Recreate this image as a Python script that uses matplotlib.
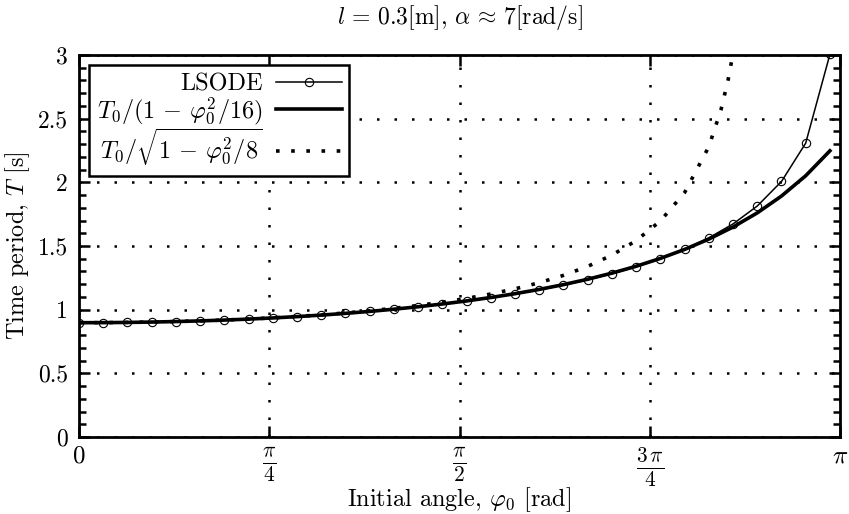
import matplotlib
matplotlib.use("Agg")
import matplotlib.pyplot as plt
from matplotlib.ticker import MultipleLocator

plt.rcParams['mathtext.fontset'] = 'cm'
plt.rcParams['font.family'] = ['cmr10', 'DejaVu Serif']
plt.rcParams['axes.formatter.use_mathtext'] = True

# initial angle [rad]
phi = [0.0, 0.1, 0.2, 0.3, 0.4, 0.5, 0.6, 0.7, 0.8, 0.9,
       1.0, 1.1, 1.2, 1.3, 1.4, 1.5, 1.6, 1.7, 1.8, 1.9,
       2.0, 2.1, 2.2, 2.3, 2.4, 2.5, 2.6, 2.7, 2.8, 2.9, 3.0, 3.1]
# LSODE time period [s]
t_lsode = [0.8976, 0.8982, 0.8998, 0.9027, 0.9067, 0.9118, 0.9182, 0.9259, 0.9349, 0.9453,
           0.9571, 0.9706, 0.9858, 1.0028, 1.0218, 1.0430, 1.0667, 1.0931, 1.1226, 1.1557,
           1.1928, 1.2348, 1.2825, 1.3371, 1.4004, 1.4747, 1.5638, 1.6733, 1.8139, 2.0066,
           2.3080, 3.0056]
# T0/(1 - phi^2/16)
t_approx1 = [0.8976, 0.8982, 0.8998, 0.9027, 0.9067, 0.9118, 0.9183, 0.9260, 0.9350, 0.9455,
             0.9574, 0.9710, 0.9864, 1.0036, 1.0229, 1.0445, 1.0686, 1.0955, 1.1255, 1.1591,
             1.1968, 1.2391, 1.2869, 1.3409, 1.4025, 1.4730, 1.5543, 1.6489, 1.7600, 1.8922,
             2.0517, 2.2475]
# T0/sqrt(1 - phi^2/8)
phi2 = [0.0, 0.1, 0.2, 0.3, 0.4, 0.5, 0.6, 0.7, 0.8, 0.9,
        1.0, 1.1, 1.2, 1.3, 1.4, 1.5, 1.6, 1.7, 1.8, 1.9,
        2.0, 2.1, 2.2, 2.3, 2.4, 2.5, 2.6, 2.65, 2.68, 2.7, 2.72]
t_approx2 = [0.8976, 0.8982, 0.8999, 0.9027, 0.9067, 0.9120, 0.9185, 0.9264, 0.9358, 0.9468,
             0.9596, 0.9743, 0.9912, 1.0107, 1.0330, 1.0588, 1.0885, 1.1231, 1.1637, 1.2117,
             1.2694, 1.3399, 1.4282, 1.5422, 1.6963, 1.9192, 2.2799, 2.5678, 2.8077, 3.0130,
             3.2732]

xtick_vals = [0, 0.7853981634, 1.5707963268, 2.3561944902, 3.1415926536]
xtick_labels = ['$0$', r'$\frac{\pi}{4}$', r'$\frac{\pi}{2}$', r'$\frac{3\,\pi}{4}$', r'$\pi$']
ytick_vals = [0, 0.5, 1, 1.5, 2, 2.5, 3]
ytick_labels = ['0', '0.5', '1', '1.5', '2', '2.5', '3']

fig = plt.figure(figsize=(8.49, 5.14), dpi=100)
ax = fig.add_axes([79/849, 1-437/514, (840-79)/849, (437-55)/514])

ax.plot(phi, t_lsode, color='black', lw=1.1, marker='o', ms=6, mfc='none',
        mec='black', mew=0.8, label='LSODE', zorder=4)
ax.plot(phi, t_approx1, color='black', lw=2.6, label=r'$T_0/(1\,-\,\varphi_0^2/16)$', zorder=3)
ax.plot(phi2, t_approx2, color='black', lw=2.6, linestyle=(0, (1, 3.2)),
        label=r'$T_0/\sqrt{1\,-\,\varphi_0^2/8}$', zorder=3)

ax.set_xlim(0, 3.1415926536)
ax.set_ylim(0, 3)
ax.set_xticks(xtick_vals)
ax.set_xticklabels(xtick_labels)
ax.set_yticks(ytick_vals)
ax.set_yticklabels(ytick_labels)
ax.yaxis.set_minor_locator(MultipleLocator(0.1))

ax.grid(True, which='major', color='black', linestyle=(0, (1, 6)), linewidth=1.8)
ax.tick_params(which='both', direction='in', top=True, right=True, width=1.8)
ax.tick_params(which='major', length=8, labelsize=17, pad=8)
ax.tick_params(which='minor', length=5)
ax.tick_params(axis='x', which='major', labelsize=18, pad=6)
for lab in ax.get_xticklabels()[1:4]:
    lab.set_fontsize(22)
for s in ax.spines.values():
    s.set_linewidth(2.0)

ax.set_xlabel(r'Initial angle, $\varphi_0$ [rad]', fontsize=17.5, labelpad=-3)
ax.set_ylabel(r'Time period, $T$ [s]', fontsize=17.5, labelpad=4)
ax.set_title(r'$l\,=\,0.3$[m], $\alpha\,\approx\,7$[rad/s]', fontsize=17, pad=22)

leg = ax.legend(loc='upper left', markerfirst=False, fontsize=17.5, frameon=True,
                fancybox=False, edgecolor='black', framealpha=1, handlelength=2.7,
                borderaxespad=0.42, labelspacing=0.0, borderpad=0.32, handletextpad=0.55)
leg.get_frame().set_linewidth(1.8)

fig.savefig('out.png', dpi=100)
